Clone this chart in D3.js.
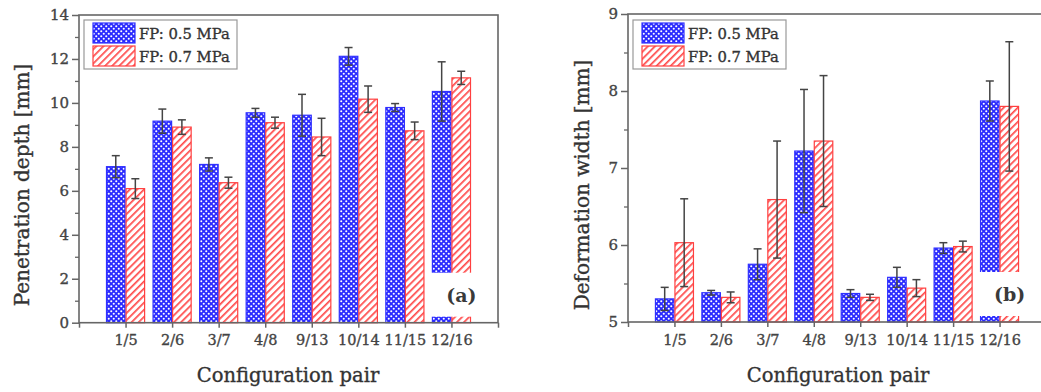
<!DOCTYPE html>
<html><head><meta charset="utf-8">
<script src="https://cdn.jsdelivr.net/npm/d3@7"></script>
<style>body{margin:0;background:#fff}svg{display:block}</style>
</head><body>
<svg id="c" width="1041" height="392"></svg>
<script>
const categories = ["1/5","2/6","3/7","4/8","9/13","10/14","11/15","12/16"];
const seriesNames = ["FP: 0.5 MPa","FP: 0.7 MPa"];
const depth05 = [7.1, 9.17, 7.2, 9.55, 9.44, 12.12, 9.79, 10.52];
const depth05Err = [0.5, 0.55, 0.3, 0.2, 0.95, 0.4, 0.18, 1.35];
const depth07 = [6.1, 8.9, 6.37, 9.1, 8.45, 10.17, 8.73, 11.14];
const depth07Err = [0.45, 0.33, 0.25, 0.25, 0.85, 0.6, 0.4, 0.3];
const width05 = [5.3, 5.38, 5.75, 7.22, 5.37, 5.58, 5.96, 7.87];
const width05Err = [0.15, 0.03, 0.2, 0.8, 0.05, 0.13, 0.07, 0.26];
const width07 = [6.03, 5.32, 6.59, 7.35, 5.32, 5.44, 5.98, 7.8];
const width07Err = [0.57, 0.07, 0.76, 0.85, 0.04, 0.11, 0.07, 0.84];
const depthTicks = [0,2,4,6,8,10,12,14];
const widthTicks = [5,6,7,8,9];

const svg = d3.select("#c");
const FONT = "DejaVu Serif";
const defs = svg.append("defs");
// blue dotted crosshatch (diagonal lattice of white dots)
const pb = defs.append("pattern").attr("id","pBlue").attr("patternUnits","userSpaceOnUse")
  .attr("width",5).attr("height",5);
pb.append("rect").attr("width",5).attr("height",5).attr("fill","#2a2aff");
pb.append("circle").attr("cx",1.25).attr("cy",1.25).attr("r",1.05).attr("fill","#fff");
pb.append("circle").attr("cx",3.75).attr("cy",3.75).attr("r",1.05).attr("fill","#fff");
// red diagonal hatch
const pr = defs.append("pattern").attr("id","pRed").attr("patternUnits","userSpaceOnUse")
  .attr("width",5).attr("height",5).attr("patternTransform","rotate(45)");
pr.append("rect").attr("width",5).attr("height",5).attr("fill","#fff");
pr.append("rect").attr("x",0).attr("y",0).attr("width",1.7).attr("height",5).attr("fill","#ff4a4a");

function boldish(sel, col){ return sel.attr("fill",col).attr("stroke",col).attr("stroke-width",0.35); }

function panel(o){
  const g = svg.append("g");
  const x = d3.scaleLinear().domain([0,9]).range([o.x0,o.x1]);
  const y = d3.scaleLinear().domain(o.domain).range([o.yBot,o.yTop]);
  const bw = x(0.42)-x(0);
  const axisCol = "#666";
  const s = [{v:o.a, e:o.ae, fill:"url(#pBlue)", stroke:"#3030ff", off:-1},
             {v:o.b, e:o.be, fill:"url(#pRed)", stroke:"#ff4040", off:0}];
  s.forEach(ser=>{
    g.selectAll(null).data(categories).enter().append("rect")
      .attr("x",(d,i)=>x(i+1)+ser.off*bw+0.5)
      .attr("width",bw-1)
      .attr("y",(d,i)=>y(ser.v[i]))
      .attr("height",(d,i)=>y(o.domain[0])-y(ser.v[i]))
      .attr("fill",ser.fill).attr("stroke",ser.stroke).attr("stroke-width",1.2);
  });
  s.forEach(ser=>{
    categories.forEach((d,i)=>{
      const cx = x(i+1)+ser.off*bw+bw/2;
      const t = y(ser.v[i]+ser.e[i]), b = y(ser.v[i]-ser.e[i]);
      g.append("line").attr("x1",cx).attr("x2",cx).attr("y1",t).attr("y2",b)
        .attr("stroke","#444").attr("stroke-width",1.5);
      [t,b].forEach(yy=>g.append("line").attr("x1",cx-4).attr("x2",cx+4).attr("y1",yy).attr("y2",yy)
        .attr("stroke","#444").attr("stroke-width",1.5));
    });
  });
  const bx = x(8);
  g.append("rect").attr("x",bx-bw-2).attr("width",2*bw+6)
    .attr("y",o.yBot-50).attr("height",44).attr("fill","#fff");
  g.append("text").attr("x",bx+10).attr("y",o.yBot-21).attr("text-anchor","middle")
    .attr("font-family",FONT).attr("font-weight","bold").attr("font-size",19).attr("fill","#3a3a3a")
    .text(o.tag);
  g.append("rect").attr("x",o.x0).attr("y",o.yTop).attr("width",o.x1-o.x0).attr("height",o.yBot-o.yTop)
    .attr("fill","none").attr("stroke",axisCol).attr("stroke-width",1.6);
  const ya = d3.axisLeft(y).tickValues(o.ticks).tickSize(7).tickFormat(d3.format("d"));
  const yg = g.append("g").attr("transform",`translate(${o.x0},0)`).call(ya);
  yg.select(".domain").remove();
  yg.selectAll(".tick line").attr("stroke",axisCol).attr("stroke-width",1.5);
  boldish(yg.selectAll(".tick text").attr("font-family",FONT).attr("font-size",15).attr("x",-10),"#444");
  const ym = d3.axisLeft(y).tickValues(o.minor).tickSize(4).tickFormat("");
  const ymg = g.append("g").attr("transform",`translate(${o.x0},0)`).call(ym);
  ymg.select(".domain").remove();
  ymg.selectAll(".tick line").attr("stroke",axisCol).attr("stroke-width",1.3);
  const xa = d3.axisBottom(x).tickValues(d3.range(0,10)).tickSize(5)
    .tickFormat(d=> (d>=1 && d<=8) ? categories[d-1] : "");
  const xg = g.append("g").attr("transform",`translate(0,${o.yBot})`).call(xa);
  xg.select(".domain").remove();
  xg.selectAll(".tick line").attr("stroke",axisCol).attr("stroke-width",1.5);
  boldish(xg.selectAll(".tick text").attr("font-family",FONT).attr("font-size",14.5).attr("dy","1.0em"),"#444");
  boldish(g.append("text").attr("transform",`translate(${o.ylx},185) rotate(-90)`)
    .attr("text-anchor","middle").attr("font-family",FONT).attr("font-size",20)
    .text(o.ylabel),"#333");
  boldish(g.append("text").attr("x",o.xlx).attr("y",382).attr("text-anchor","middle")
    .attr("font-family",FONT).attr("font-size",19.5).text("Configuration pair"),"#333");
  const lx = o.x0+5, ly = 20;
  g.append("rect").attr("x",lx).attr("y",ly).attr("width",153).attr("height",49)
    .attr("fill","#fff").attr("stroke","#999").attr("stroke-width",1.2);
  [["url(#pBlue)","#3030ff"],["url(#pRed)","#ff4040"]].forEach((p,i)=>{
    g.append("rect").attr("x",lx+9).attr("y",ly+3+i*23).attr("width",42).attr("height",20)
      .attr("fill",p[0]).attr("stroke",p[1]).attr("stroke-width",1.2);
    boldish(g.append("text").attr("x",lx+55).attr("y",ly+19+i*23).attr("font-family",FONT)
      .attr("font-size",14.8).text(seriesNames[i]),"#333");
  });
}

panel({x0:79,x1:498,yTop:15,yBot:322.7,domain:[0,14],ticks:depthTicks,minor:[1,3,5,7,9,11,13],
  a:depth05,ae:depth05Err,b:depth07,be:depth07Err,tag:"(a)",ylabel:"Penetration depth [mm]",ylx:29,xlx:288});
panel({x0:628,x1:1046,yTop:14,yBot:322,domain:[5,9],ticks:widthTicks,minor:[5.5,6.5,7.5,8.5],
  a:width05,ae:width05Err,b:width07,be:width07Err,tag:"(b)",ylabel:"Deformation width [mm]",ylx:589,xlx:838});
</script>
</body></html>
